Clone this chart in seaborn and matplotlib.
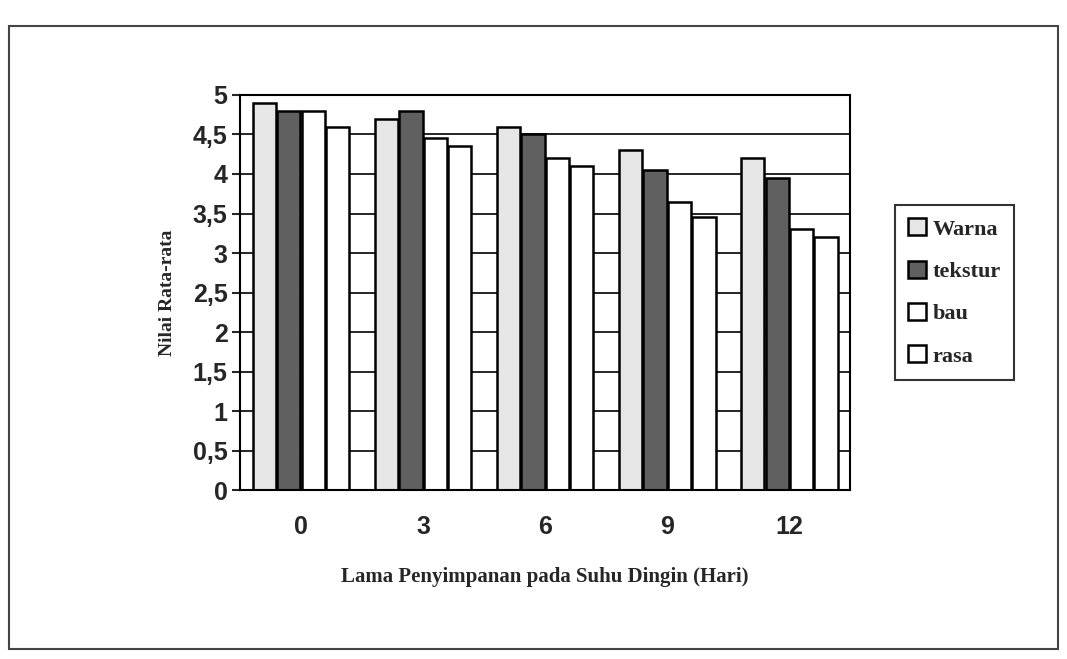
import pandas as pd
import seaborn as sns
import matplotlib.pyplot as plt
from matplotlib.patches import Rectangle

# Values (estimated)
hari = ["0", "3", "6", "9", "12"]
warna = [4.9, 4.7, 4.6, 4.3, 4.2]
tekstur = [4.8, 4.8, 4.5, 4.05, 3.95]
bau = [4.8, 4.45, 4.2, 3.65, 3.3]
rasa = [4.6, 4.35, 4.1, 3.45, 3.2]
series = ["Warna", "tekstur", "bau", "rasa"]
y_ticks = [0, 0.5, 1, 1.5, 2, 2.5, 3, 3.5, 4, 4.5, 5]
y_labels = ["0", "0,5", "1", "1,5", "2", "2,5", "3", "3,5", "4", "4,5", "5"]

df = pd.DataFrame({"Hari": hari, "Warna": warna, "tekstur": tekstur,
                   "bau": bau, "rasa": rasa})
df = df.melt(id_vars="Hari", var_name="Atribut", value_name="Nilai")

sns.set_style("white")
plt.rcParams["font.family"] = ["Liberation Serif", "DejaVu Serif"]

fig = plt.figure(figsize=(10.67, 6.59), dpi=100)
ax = fig.add_axes([0.225, 0.256, 0.572, 0.6])

palette = {"Warna": "#e6e6e6", "tekstur": "#606060", "bau": "white", "rasa": "white"}
sns.barplot(data=df, x="Hari", y="Nilai", hue="Atribut", hue_order=series,
            order=hari, palette=palette, width=0.8, gap=0.05,
            edgecolor="black", linewidth=1.8, saturation=1, ax=ax)

ax.set_ylim(0, 5)
ax.set_yticks(y_ticks)
ax.set_yticklabels(y_labels, fontfamily="Liberation Sans", fontweight="bold", fontsize=18)
ax.set_xticks(range(len(hari)))
ax.set_xticklabels(hari, fontfamily="Liberation Sans", fontweight="bold", fontsize=18)
ax.tick_params(axis="x", pad=18, length=0)
ax.tick_params(axis="y", length=6, width=1.5, direction="out", left=True, pad=3)
ax.yaxis.grid(True, color="black", linewidth=1.2)
ax.set_axisbelow(True)
for s in ax.spines.values():
    s.set_color("black")
    s.set_linewidth(1.5)

ax.set_xlabel("Lama Penyimpanan pada Suhu Dingin (Hari)", fontsize=15,
              fontweight="bold", labelpad=20)
ax.set_ylabel("Nilai Rata-rata", fontsize=14, fontweight="bold", labelpad=12)

ax.legend(loc="center left", bbox_to_anchor=(1.055, 0.5), frameon=True,
          edgecolor="black", fancybox=False, handlelength=0.8,
          handleheight=0.8, handletextpad=0.3, labelspacing=0.95,
          borderpad=0.6, prop={"weight": "bold", "size": 16})
ax.get_legend().get_frame().set_linewidth(1.5)

# outer frame of the scanned figure
fig.patches.append(Rectangle((0.008, 0.015), 0.984, 0.945, transform=fig.transFigure,
                             fill=False, edgecolor="#444444", linewidth=1.5))

plt.savefig("out.png", dpi=100)
